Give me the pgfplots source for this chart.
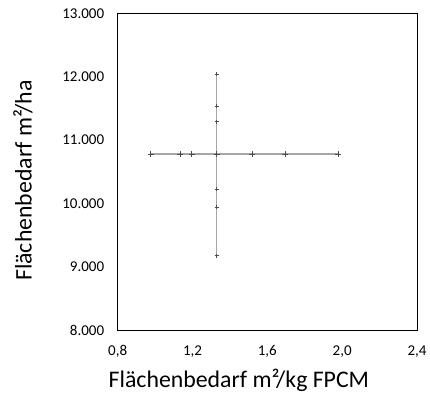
\documentclass[border=0pt]{standalone}
\usepackage{pgfplots}
\pgfplotsset{compat=1.18}
\usepackage{fontspec}
\setmainfont{Carlito}
\begin{document}
\begin{tikzpicture}[x=1pt,y=1pt]
\useasboundingbox (-117.7,-68) rectangle (312.3,330);
\begin{axis}[
  at={(0,0)}, anchor=south west,
  scale only axis, width=299.3pt, height=316.7pt,
  xmin=0.8, xmax=2.4, ymin=8000, ymax=13000,
  scaled ticks=false,
  xtick={0.8,1.2,1.6,2.0,2.4},
  xticklabels={{0,8},{1,2},{1,6},{2,0},{2,4}},
  ytick={8000,9000,10000,11000,12000,13000},
  yticklabels={8.000,9.000,10.000,11.000,12.000,13.000},
  tick style={draw=none},
  axis line style={black, line width=0.9pt},
  tick label style={font=\fontsize{15}{16}\selectfont},
  xticklabel style={yshift=-12pt},
  yticklabel style={xshift=-10pt},
  label style={font=\fontsize{23.8}{26}\selectfont},
  xlabel={Flächenbedarf m²/kg FPCM},
  ylabel={Flächenbedarf m²/ha},
  xlabel style={at={(axis description cs:0.405,0)}, anchor=base, yshift=-57pt},
  ylabel style={at={(axis description cs:0,0.472)}, anchor=base, yshift=86pt},
  /pgf/number format/assume math mode=true,
]
\addplot[color=gray!70, line width=1.1pt, mark=+, mark size=3pt, mark options={draw=gray!60!black, line width=0.6pt}]
 coordinates {(0.976,10779) (1.133,10779) (1.196,10779) (1.329,10779) (1.518,10779) (1.694,10779) (1.977,10779)};
\addplot[color=gray!70, line width=1.1pt, mark=+, mark size=2pt, mark options={draw=gray!60!black, line width=0.6pt}]
 coordinates {(1.329,9173) (1.329,9937) (1.329,10226) (1.329,10779) (1.329,11289) (1.329,11532) (1.329,12042)};
\end{axis}
\end{tikzpicture}
\end{document}
